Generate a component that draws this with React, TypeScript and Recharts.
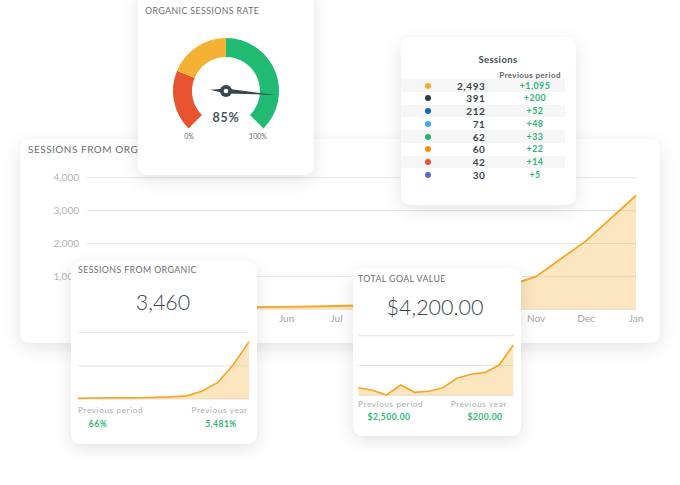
import React from "react";
import {
  AreaChart,
  Area,
  XAxis,
  YAxis,
  CartesianGrid,
  PieChart,
  Pie,
  Cell,
} from "recharts";

// monthly sessions from organic search
const months = ["Feb", "Mar", "Apr", "May", "Jun", "Jul", "Aug", "Sep", "Oct", "Nov", "Dec", "Jan"];
const sessions = [40, 60, 70, 65, 75, 100, 130, 190, 480, 1000, 2080, 3460];
const goalValues = [510, 335, 20, 690, 200, 270, 510, 1140, 1410, 1540, 2030, 3380];
const yTicks = [0, 1000, 2000, 3000, 4000];
// month labels left uncovered by the small cards
const shownMonths = ["Jun", "Jul", "Nov", "Dec", "Jan"];

// gauge
const gaugeBands = [
  { name: "low", value: 25 },
  { name: "mid", value: 25 },
  { name: "high", value: 50 },
];
const gaugeColors = ["#e8532f", "#f4b134", "#21ba72"];
const gaugeValue = 85;

// sessions by source
const sourceSessions = [2493, 391, 212, 71, 62, 60, 42, 30];
const sourceChange = [1095, 200, 52, 48, 33, 22, 14, 5];
const sourceColors = ["#f5ac33", "#2b3a55", "#0d6ac8", "#3fa9f5", "#1db868", "#ff8c0a", "#e8523a", "#5a63d8"];

const sessionRows = months.map((m, i) => ({ month: m, sessions: sessions[i] }));
const goalRows = months.map((m, i) => ({ month: m, value: goalValues[i] }));

const FONT = "Lato, 'Open Sans', sans-serif";
const ORANGE = "#f5a623";
const GREEN = "#2bb673";

const card: React.CSSProperties = {
  position: "absolute",
  background: "#fff",
  borderRadius: 9,
  boxShadow: "0 5px 18px rgba(0,0,0,0.11)",
  overflow: "hidden",
};

const titleStyle: React.CSSProperties = {
  fontSize: 8.8,
  color: "#6b6e72",
  letterSpacing: 0.4,
};

const smallGray: React.CSSProperties = {
  fontSize: 8,
  color: "#ababab",
  letterSpacing: 0.7,
};

const greenBold: React.CSSProperties = {
  fontSize: 8.5,
  fontWeight: 700,
  color: GREEN,
  letterSpacing: 0.5,
};

const bigNum: React.CSSProperties = {
  fontSize: 21.5,
  fontWeight: 300,
  color: "#3b4653",
};

// text placed by its vertical centre
const T = ({ x, y, right, center, style, children }: any) => {
  const s: React.CSSProperties = {
    position: "absolute",
    top: y,
    whiteSpace: "nowrap",
    lineHeight: 1,
    transform: center ? "translate(-50%,-50%)" : "translateY(-50%)",
    ...style,
  };
  if (right !== undefined) s.right = right;
  else s.left = x;
  return <div style={s}>{children}</div>;
};

const Needle = ({ cx, cy, value }: { cx: number; cy: number; value: number }) => {
  const ang = ((225 - (270 * value) / 100) * Math.PI) / 180;
  const ux = Math.cos(ang);
  const uy = -Math.sin(ang);
  const px = -uy;
  const py = ux;
  const tip = 50;
  const tail = 16;
  const w = 2.4;
  const pts = [
    [cx + ux * tip, cy + uy * tip],
    [cx + px * w, cy + py * w],
    [cx - ux * tail, cy - uy * tail],
    [cx - px * w, cy - py * w],
  ]
    .map((p) => p.join(","))
    .join(" ");
  return (
    <svg width={176} height={187} style={{ position: "absolute", left: 0, top: 0 }}>
      <polygon points={pts} fill="#37474f" />
      <circle cx={cx} cy={cy} r={6} fill="#37474f" />
      <circle cx={cx} cy={cy} r={2.3} fill="#fff" />
    </svg>
  );
};

export default function App() {
  return (
    <div
      style={{
        position: "absolute",
        left: 0,
        top: 0,
        width: 680,
        height: 485,
        background: "#fff",
        overflow: "hidden",
        fontFamily: FONT,
      }}
    >
      {/* main sessions card */}
      <div style={{ ...card, left: 20, top: 139, width: 640, height: 204 }}>
        <T x={8} y={9.5} style={{ ...titleStyle, fontSize: 10, letterSpacing: 0.5 }}>SESSIONS FROM ORGANIC</T>
        <AreaChart
          width={640}
          height={204}
          data={sessionRows}
          margin={{ top: 38.7, right: 24, left: 17, bottom: 13.7 }}
        >
          <CartesianGrid vertical={false} stroke="#e6e6e6" />
          <XAxis
            dataKey="month"
            axisLine={false}
            tickLine={false}
            ticks={shownMonths}
            interval={0}
            height={20}
            tickMargin={0}
            tick={{ fontSize: 10, fill: "#a3a3a3", fontFamily: FONT }}
          />
          <YAxis
            width={50}
            domain={[0, 4000]}
            ticks={yTicks}
            axisLine={false}
            tickLine={false}
            tickFormatter={(v: number) => (v === 0 ? "" : v.toLocaleString("en-US"))}
            tick={{ fontSize: 10, fill: "#b3b3b3", fontFamily: FONT }}
          />
          <Area
            type="linear"
            dataKey="sessions"
            stroke={ORANGE}
            strokeWidth={1.8}
            fill="#f7b23b"
            fillOpacity={0.32}
            isAnimationActive={false}
          />
        </AreaChart>
      </div>

      {/* gauge card */}
      <div style={{ ...card, left: 138, top: -12, width: 176, height: 187 }}>
        <T x={7} y={23} style={titleStyle}>ORGANIC SESSIONS RATE</T>
        <PieChart width={176} height={187} margin={{ top: 0, right: 0, bottom: 0, left: 0 }}>
          <Pie
            data={gaugeBands}
            dataKey="value"
            cx={88}
            cy={103}
            startAngle={225}
            endAngle={-45}
            innerRadius={34}
            outerRadius={53}
            stroke="none"
            isAnimationActive={false}
          >
            {gaugeBands.map((b, i) => (
              <Cell key={b.name} fill={gaugeColors[i]} />
            ))}
          </Pie>
        </PieChart>
        <Needle cx={88} cy={103} value={gaugeValue} />
        <T x={88} y={130} center style={{ fontSize: 12.5, fontWeight: 700, color: "#4a5560", letterSpacing: 0.8 }}>
          {gaugeValue}%
        </T>
        <T x={51} y={148} center style={{ fontSize: 7, color: "#666" }}>0%</T>
        <T x={120} y={148} center style={{ fontSize: 7, color: "#666" }}>100%</T>
      </div>

      {/* sessions by source table */}
      <div style={{ ...card, left: 401, top: 37, width: 175, height: 168 }}>
        <T x={97} y={23} center style={{ fontSize: 9.5, fontWeight: 700, color: "#454c55", letterSpacing: 0.4 }}>
          Sessions
        </T>
        <T x={129} y={38} center style={{ fontSize: 8, fontWeight: 700, color: "#5d636b", letterSpacing: 0.4 }}>
          Previous period
        </T>
        {sourceSessions.map((v, i) => {
          const cy = 48.7 + i * 12.7;
          return (
            <React.Fragment key={i}>
              {i % 2 === 0 && (
                <div
                  style={{
                    position: "absolute",
                    left: 0,
                    top: cy - 6.35,
                    width: 164,
                    height: 12.7,
                    background: "#f6f6f6",
                  }}
                />
              )}
              <div
                style={{
                  position: "absolute",
                  left: 24.3,
                  top: cy - 3,
                  width: 6,
                  height: 6,
                  borderRadius: 3,
                  background: sourceColors[i],
                }}
              />
              <T right={175 - 84.5} y={cy} style={{ fontSize: 10, fontWeight: 700, color: "#3a4450", letterSpacing: 0.6 }}>
                {v.toLocaleString("en-US")}
              </T>
              <T x={134} y={cy} center style={{ ...greenBold, fontSize: 8.8 }}>
                +{sourceChange[i].toLocaleString("en-US")}
              </T>
            </React.Fragment>
          );
        })}
      </div>

      {/* sessions from organic mini card */}
      <div style={{ ...card, left: 71, top: 262, width: 186, height: 182 }}>
        <T x={7} y={8} style={titleStyle}>SESSIONS FROM ORGANIC</T>
        <T x={92} y={40.7} center style={bigNum}>3,460</T>
        <div style={{ position: "absolute", left: 0, top: 0 }}>
          <AreaChart
            width={186}
            height={140}
            data={sessionRows}
            margin={{ top: 70.7, right: 8, left: 7, bottom: 3 }}
          >
            <CartesianGrid vertical={false} stroke="#e4e4e4" />
            <XAxis dataKey="month" hide />
            <YAxis hide domain={[0, 4000]} ticks={yTicks} />
            <Area
              type="linear"
              dataKey="sessions"
              stroke={ORANGE}
              strokeWidth={1.6}
              fill="#f7b23b"
              fillOpacity={0.32}
              isAnimationActive={false}
            />
          </AreaChart>
        </div>
        <T x={7} y={147.7} style={smallGray}>Previous period</T>
        <T right={9.3} y={147.7} style={smallGray}>Previous year</T>
        <T x={27} y={162} center style={greenBold}>66%</T>
        <T x={150} y={162} center style={greenBold}>5,481%</T>
      </div>

      {/* total goal value card */}
      <div style={{ ...card, left: 353, top: 268, width: 168, height: 168 }}>
        <T x={5} y={11} style={titleStyle}>TOTAL GOAL VALUE</T>
        <T x={82} y={39.7} center style={bigNum}>$4,200.00</T>
        <div style={{ position: "absolute", left: 0, top: 0 }}>
          <AreaChart
            width={168}
            height={130}
            data={goalRows}
            margin={{ top: 67.7, right: 7.7, left: 5.3, bottom: 2.7 }}
          >
            <CartesianGrid vertical={false} stroke="#e4e4e4" />
            <XAxis dataKey="month" hide />
            <YAxis hide domain={[0, 4000]} ticks={yTicks} />
            <Area
              type="linear"
              dataKey="value"
              stroke={ORANGE}
              strokeWidth={1.6}
              fill="#f7b23b"
              fillOpacity={0.32}
              isAnimationActive={false}
            />
          </AreaChart>
        </div>
        <T x={5} y={136} style={smallGray}>Previous period</T>
        <T right={14} y={136} style={smallGray}>Previous year</T>
        <T x={36} y={148.7} center style={greenBold}>$2,500.00</T>
        <T x={132} y={148.7} center style={greenBold}>$200.00</T>
      </div>
    </div>
  );
}
